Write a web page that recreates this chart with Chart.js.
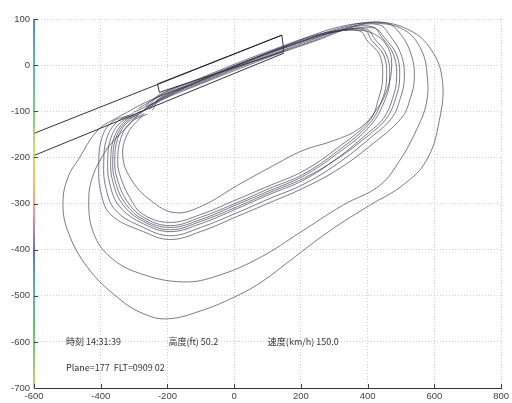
<!DOCTYPE html>
<html>
<head>
<meta charset="utf-8">
<script src="https://cdn.jsdelivr.net/npm/chart.js@4/dist/chart.umd.min.js"></script>
<style>
  html, body { margin: 0; padding: 0; background: #fff; }
  #wrap { width: 512px; height: 403px; }
</style>
</head>
<body>
<div id="wrap"><canvas id="c" width="512" height="403"></canvas></div>
<script>
// Track positions (east / north, m) of each circuit flown
const loopA = [[-281,-102],[-161,-54],[-42,-15],[78,20],[197,50],[287,70],[361,76],[421,67],[460,39],[472,0],[460,-50],[430,-93],[376,-137],[301,-163],[206,-185],[107,-222],[9,-261],[-93,-304],[-176,-320],[-251,-293],[-310,-246],[-334,-196],[-319,-148],[-275,-109]];
const loopB = [[-245,-98],[-221,-72],[-101,-37],[18,-2],[137,30],[242,57],[301,72],[376,74],[400,52],[436,22],[445,-28],[433,-72],[406,-120],[307,-181],[206,-230],[107,-261],[9,-291],[-101,-324],[-191,-341],[-272,-324],[-313,-287],[-343,-237],[-349,-207],[-340,-159],[-310,-124],[-260,-106]];
const loopC = [[-260,-91],[-221,-65],[-101,-30],[18,4],[137,37],[242,63],[322,76],[397,78],[421,57],[457,22],[466,-28],[454,-72],[406,-133],[307,-193],[206,-241],[107,-272],[9,-302],[-101,-335],[-191,-352],[-272,-335],[-328,-298],[-358,-248],[-364,-207],[-355,-159],[-325,-124],[-275,-101]];
const loopD = [[-275,-100],[-221,-74],[-101,-39],[18,-4],[137,28],[242,54],[340,80],[415,83],[442,61],[478,22],[487,-28],[475,-72],[448,-115],[406,-144],[307,-203],[206,-250],[107,-280],[9,-311],[-101,-344],[-191,-361],[-272,-344],[-343,-307],[-373,-257],[-379,-207],[-370,-159],[-340,-124],[-290,-108]];
const loopE = [[-287,-94],[-221,-67],[-101,-33],[18,2],[137,35],[242,61],[361,85],[436,87],[466,65],[501,22],[510,-28],[498,-72],[472,-115],[406,-159],[307,-215],[206,-259],[107,-289],[9,-320],[-101,-352],[-191,-370],[-272,-352],[-355,-315],[-385,-265],[-391,-211],[-382,-159],[-352,-124],[-301,-104]];
const loopF = [[-301,-102],[-221,-76],[-101,-41],[18,-7],[137,26],[242,52],[382,89],[457,91],[496,70],[531,22],[540,-28],[528,-72],[501,-115],[406,-176],[307,-228],[206,-267],[107,-298],[9,-328],[-101,-361],[-191,-378],[-272,-361],[-370,-324],[-400,-274],[-406,-217],[-397,-159],[-367,-124],[-316,-109]];
const loopG = [[-266,-89],[-221,-63],[-101,-28],[18,7],[137,39],[242,65],[346,78],[421,80],[451,59],[487,22],[496,-28],[484,-72],[457,-115],[406,-150],[307,-204],[206,-246],[107,-276],[9,-307],[-101,-339],[-191,-357],[-272,-339],[-334,-302],[-364,-252],[-370,-207],[-361,-159],[-331,-124],[-281,-100]];
const loopH = [[-254,-96],[-221,-70],[-101,-35],[18,0],[137,33],[242,59],[316,74],[391,76],[412,54],[448,22],[457,-28],[445,-72],[406,-126],[307,-188],[206,-237],[107,-267],[9,-298],[-101,-330],[-191,-348],[-272,-330],[-322,-294],[-352,-243],[-358,-207],[-349,-159],[-319,-124],[-269,-105]];
const wideLoop1 = [[-379,-178],[-331,-141],[-251,-87],[-101,-33],[48,11],[197,54],[316,83],[421,91],[510,76],[561,33],[579,-26],[576,-83],[546,-141],[496,-207],[436,-261],[325,-304],[197,-363],[78,-417],[-51,-457],[-152,-470],[-281,-452],[-370,-417],[-421,-365],[-436,-293],[-421,-235],[-379,-178]];
const wideLoop2 = [[-349,-113],[-251,-76],[-101,-33],[48,11],[197,50],[316,80],[427,93],[525,76],[591,33],[624,-33],[615,-120],[576,-207],[504,-261],[406,-304],[287,-359],[167,-424],[78,-472],[-3,-504],[-101,-533],[-200,-550],[-272,-539],[-349,-504],[-439,-439],[-499,-359],[-513,-293],[-496,-239],[-469,-207],[-409,-141],[-349,-113]];

// Approach corridor and runway outline
const corridorUpper = [[-600,-148],[143,65]];
const corridorLower = [[-600,-196],[149,26]];
const runway = [[-230,-41],[143,65],[149,30],[-224,-59],[-230,-41]];

// Axis ranges
const xMin = -600, xMax = 800, xStep = 200;
const yMin = -700, yMax = 100, yStep = 100;

// Readout text
const readouts = ['時刻 14:31:39', '高度(ft) 50.2', '速度(km/h) 150.0', 'Plane=177  FLT=0909 02'];

const toXY = arr => arr.map(p => ({ x: p[0], y: p[1] }));
const tracks = [loopA, loopB, loopC, loopD, loopE, loopF, loopG, loopH, wideLoop1, wideLoop2];

const datasets = tracks.map(t => ({
  data: toXY(t),
  showLine: true,
  tension: 0.4,
  borderColor: 'rgba(55,50,75,0.72)',
  borderWidth: 0.9,
  pointRadius: 0,
  fill: false
}));
[corridorUpper, corridorLower, runway].forEach(t => datasets.push({
  data: toXY(t),
  showLine: true,
  tension: 0,
  borderColor: 'rgba(30,30,30,0.9)',
  borderWidth: 1,
  pointRadius: 0,
  fill: false
}));

// Coloured left axis line and inward tick marks
const axisDecor = {
  id: 'axisDecor',
  afterDraw(chart) {
    const { ctx, chartArea: a, scales } = chart;
    const g = ctx.createLinearGradient(0, a.top, 0, a.bottom);
    g.addColorStop(0.00, '#2f6fb8');
    g.addColorStop(0.11, '#2fa3a8');
    g.addColorStop(0.25, '#55c06a');
    g.addColorStop(0.36, '#cfd24a');
    g.addColorStop(0.45, '#f0b44a');
    g.addColorStop(0.53, '#e27890');
    g.addColorStop(0.63, '#3a55a5');
    g.addColorStop(0.73, '#2fa3a8');
    g.addColorStop(0.84, '#45b448');
    g.addColorStop(1.00, '#b4c648');
    ctx.save();
    ctx.strokeStyle = g;
    ctx.lineWidth = 1.6;
    ctx.beginPath();
    ctx.moveTo(a.left, a.top);
    ctx.lineTo(a.left, a.bottom);
    ctx.stroke();
    ctx.strokeStyle = '#444';
    ctx.lineWidth = 1;
    scales.x.ticks.forEach(t => {
      const px = Math.round(scales.x.getPixelForValue(t.value)) + 0.5;
      ctx.beginPath(); ctx.moveTo(px, a.bottom); ctx.lineTo(px, a.bottom - 4); ctx.stroke();
    });
    scales.y.ticks.forEach(t => {
      const py = Math.round(scales.y.getPixelForValue(t.value)) + 0.5;
      ctx.beginPath(); ctx.moveTo(a.left, py); ctx.lineTo(a.left + 4, py); ctx.stroke();
    });
    ctx.restore();
  }
};

// Time / altitude / speed readout drawn in data space
const readoutText = {
  id: 'readoutText',
  afterDraw(chart) {
    const { ctx, scales: { x, y } } = chart;
    ctx.save();
    ctx.fillStyle = '#333';
    ctx.font = '9px "Noto Sans CJK JP", "DejaVu Sans", sans-serif';
    ctx.textBaseline = 'middle';
    ctx.textAlign = 'left';
    const spots = [[-504, -600], [-197, -600], [101, -600], [-504, -656]];
    readouts.forEach((s, i) => {
      ctx.fillText(s, x.getPixelForValue(spots[i][0]), y.getPixelForValue(spots[i][1]));
    });
    ctx.restore();
  }
};

new Chart(document.getElementById('c'), {
  type: 'scatter',
  data: { datasets },
  options: {
    responsive: false,
    animation: false,
    layout: { padding: { top: 19, right: 10, left: 0, bottom: 0 } },
    plugins: { legend: { display: false }, tooltip: { enabled: false } },
    scales: {
      x: {
        type: 'linear', min: xMin, max: xMax,
        afterFit(s) { s.height = 15; },
        ticks: { stepSize: xStep, padding: 3, color: '#444', font: { family: 'Liberation Sans, Arial, sans-serif', size: 9.5 } },
        grid: { color: '#cfcfcf', lineWidth: 1, drawTicks: false },
        border: { display: true, color: '#333', width: 1, dash: [1, 2] }
      },
      y: {
        type: 'linear', min: yMin, max: yMax,
        afterFit(s) { s.width = 34; },
        ticks: { stepSize: yStep, padding: 4, color: '#444', font: { family: 'Liberation Sans, Arial, sans-serif', size: 9.5 } },
        grid: { color: '#cfcfcf', lineWidth: 1, drawTicks: false },
        border: { display: true, color: 'rgba(0,0,0,0)', width: 1, dash: [1, 2] }
      }
    }
  },
  plugins: [axisDecor, readoutText]
});
</script>
</body>
</html>
